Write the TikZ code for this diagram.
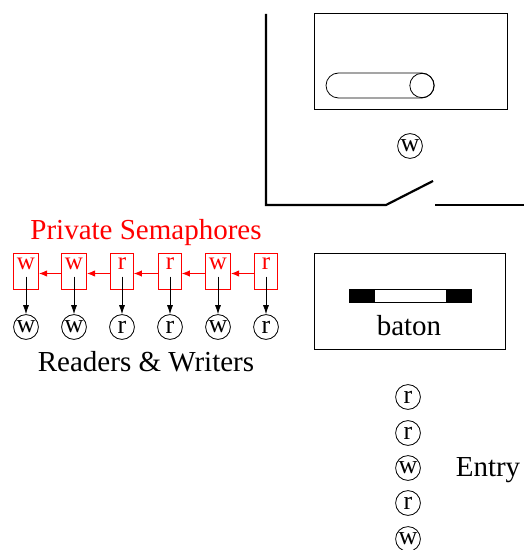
\documentclass[tikz,border=0pt]{standalone}
\usepackage{fontspec}
\setmainfont{Liberation Serif}
\usetikzlibrary{arrows.meta}
\begin{document}
\begin{tikzpicture}[x=0.5pt,y=-0.5pt,
  proc/.style={draw,circle,minimum size=12.4pt,inner sep=0pt,font=\fontsize{13}{13}\selectfont},
  sem/.style={draw=red,text=red,rectangle,minimum width=11.5pt,inner xsep=1.8pt,inner ysep=2.8pt,
    text height=5.6pt,text depth=7.1pt,font=\fontsize{12.5}{12.5}\selectfont},
  big/.style={font=\fontsize{14.5}{14.5}\selectfont},
  link/.style={red,-{Latex[length=4pt,width=3.2pt]}},
  down/.style={-{Latex[length=4.5pt,width=3pt]}},
  wall/.style={line width=1.1pt}]
\useasboundingbox (0,0) rectangle (524,550);
% monitor walls and door
\draw[wall] (266,14) -- (266,205) -- (386,205) -- (433,181);
\draw[wall] (435,205) -- (524,205);
% condition box
\draw[thin] (314,13) rectangle (507,109);
\draw[thin,rounded corners=6.25pt] (326,73) rectangle (434,98);
\draw[thin] (422,85.5) circle [radius=6.1pt];
\node[proc] (inside) at (410,146) {w};
% baton box
\draw[thin] (314,253) rectangle (505,349);
\draw[thin,fill=white] (349,289) rectangle (471,302);
\fill (349,289) rectangle (375,302);
\fill (446,289) rectangle (471,302);
\node[big] (baton) at (409,326) {baton};
% entry queue
\foreach \l/\y [count=\i] in {r/397,r/433,w/468,r/503,w/539}
  \node[proc] (e\i) at (408,\y) {\l};
\node[big] (entry) at (488,470) {Entry};
% private semaphores
\node[big,red] (title) at (146,233) {Private Semaphores};
\foreach \l [count=\i] in {w,w,r,r,w,r} {
  \node[sem] (p\i) at ({26+48*(\i-1)},271.5) {\l};
  \node[proc] (c\i) at ({26+48*(\i-1)},327) {\l};
  \draw[down] ([yshift=-2.5pt]p\i.center) -- (c\i);
}
\foreach \a/\b in {2/1,3/2,4/3,5/4,6/5}
  \draw[link] ([yshift=-1pt]p\a.west) -- ([yshift=-1pt]p\b.east);
\node[big] (rw) at (146,362) {Readers \& Writers};
\end{tikzpicture}
\end{document}
